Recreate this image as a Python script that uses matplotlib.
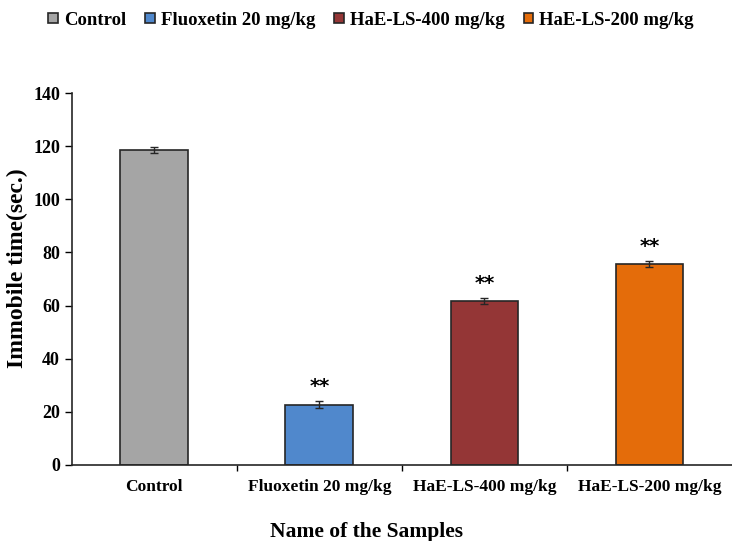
import matplotlib
matplotlib.use("Agg")
import matplotlib.pyplot as plt
from matplotlib.patches import Patch

categories = ["Control", "Fluoxetin 20 mg/kg", "HaE-LS-400 mg/kg", "HaE-LS-200 mg/kg"]
means = [118.6, 22.7, 61.7, 75.6]
errors = [1.2, 1.2, 1.1, 1.1]
significance = ["", "**", "**", "**"]
colors = ["#a5a5a5", "#5088cc", "#943636", "#e46c0a"]

plt.rcParams["font.family"] = ["Liberation Serif", "DejaVu Serif"]
plt.rcParams["font.weight"] = "bold"

fig = plt.figure(figsize=(7.32, 5.41), dpi=100)
ax = fig.add_axes([0.098, 0.1405, 0.902, 0.6875])

x = list(range(len(categories)))
ax.bar(x, means, width=0.41, color=colors, edgecolor="#262626", linewidth=1.2,
       yerr=errors, error_kw=dict(ecolor="#262626", elinewidth=1, capsize=3, capthick=1),
       zorder=2)

for xi, m, e, s in zip(x, means, errors, significance):
    if s:
        ax.text(xi, m + e + 2.0, s, ha="center", va="bottom", fontsize=14,
                fontweight="bold", family="DejaVu Sans")

ax.set_xlim(-0.5, len(categories) - 0.5)
ax.set_ylim(0, 140)
ax.set_yticks(range(0, 141, 20))
ax.set_xticks(x)
ax.set_xticks([i + 0.5 for i in x[:-1]], minor=True)
ax.set_xticklabels(categories, fontsize=12.5, fontweight="bold")
ax.tick_params(axis="y", labelsize=13, direction="out", length=5, width=1)
ax.tick_params(axis="x", which="major", length=0, pad=10)
ax.tick_params(axis="x", which="minor", length=4, width=1, direction="out")
for side in ("top", "right"):
    ax.spines[side].set_visible(False)
for side in ("left", "bottom"):
    ax.spines[side].set_linewidth(1.2)
    ax.spines[side].set_color("#262626")

ax.set_ylabel("Immobile time(sec.)", fontsize=17, fontweight="bold")
ax.yaxis.set_label_coords(-0.082, 0.53)
ax.yaxis.label.set_va("center")
ax.set_xlabel("Name of the Samples", fontsize=15.5, fontweight="bold")
ax.xaxis.set_label_coords(0.447, -0.18)
ax.xaxis.label.set_va("center")

handles = [Patch(facecolor=c, edgecolor="#262626", linewidth=1.2) for c in colors]
fig.legend(handles, categories, loc="center", bbox_to_anchor=(0.507, 0.963),
           ncol=4, frameon=False, handlelength=0.5, handleheight=0.5,
           handletextpad=0.35, columnspacing=1.0,
           prop=dict(weight="bold", size=13.5))

fig.savefig("out.png", dpi=100)
